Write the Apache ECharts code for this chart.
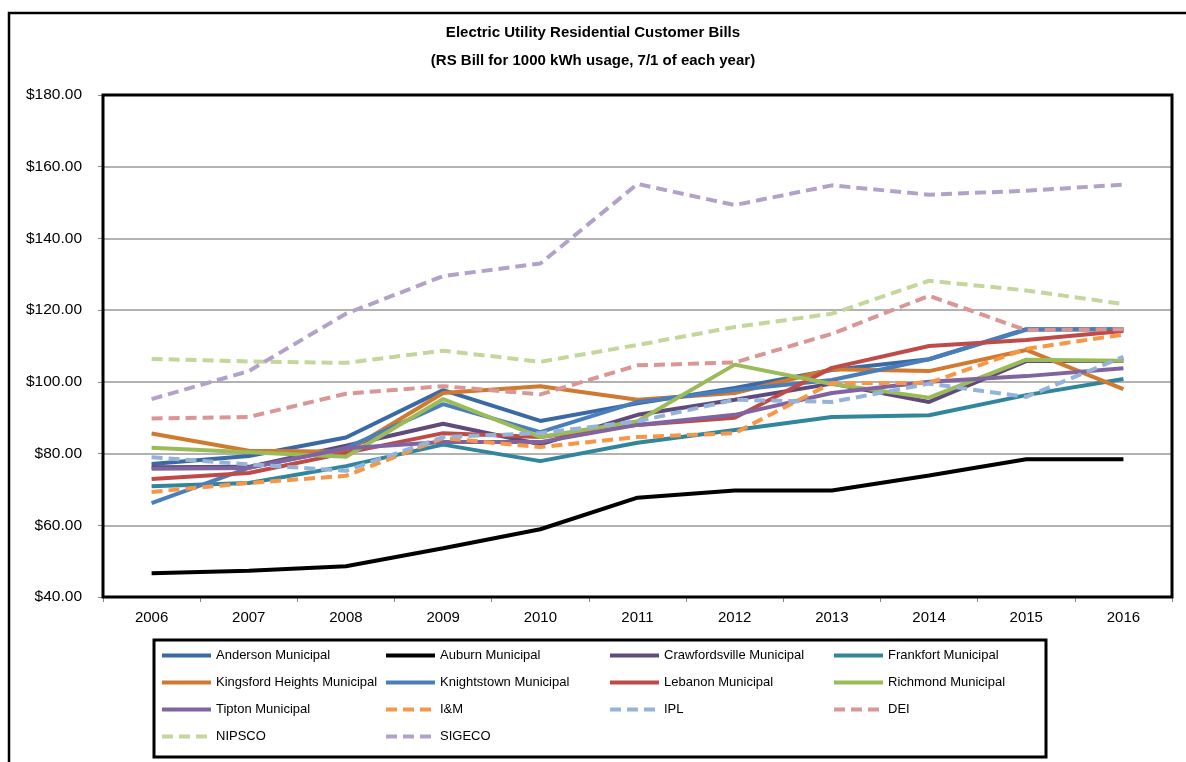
<!DOCTYPE html>
<html>
<head>
<meta charset="utf-8">
<script src="https://cdn.jsdelivr.net/npm/echarts@6/dist/echarts.min.js"></script>
<style>
html,body{margin:0;padding:0;background:#fff;}
#chart{width:1186px;height:762px;}
</style>
</head>
<body>
<div id="chart"></div>
<script>
const years = ['2006','2007','2008','2009','2010','2011','2012','2013','2014','2015','2016'];
const anderson      = [77.1, 79.3, 84.5, 97.7, 89.1, 94.0, 98.3, 103.3, 106.3, 114.7, 114.7];
const auburn        = [46.6, 47.3, 48.6, 53.6, 58.9, 67.7, 69.7, 69.7, 73.9, 78.4, 78.4];
const crawfordsville= [76.2, 76.3, 82.2, 88.3, 82.6, 90.8, 95.0, 99.5, 94.4, 105.8, 105.8];
const frankfort     = [70.9, 71.8, 76.5, 82.5, 77.9, 83.0, 86.6, 90.2, 90.7, 96.3, 100.8];
const kingsford     = [85.6, 80.8, 80.5, 96.9, 98.8, 95.0, 96.9, 103.5, 103.0, 108.9, 98.0];
const knightstown   = [66.2, 76.0, 81.5, 93.8, 86.0, 94.4, 97.7, 100.5, 106.3, 114.5, 114.7];
const lebanon       = [72.9, 74.6, 80.2, 85.7, 84.6, 88.0, 90.0, 103.9, 110.0, 111.7, 114.2];
const richmond      = [81.6, 80.4, 79.1, 95.2, 84.6, 89.0, 104.8, 99.4, 95.6, 106.2, 105.9];
const tipton        = [75.8, 76.0, 81.5, 83.2, 83.2, 88.0, 90.8, 96.9, 100.0, 101.6, 103.8];
const im            = [69.3, 71.8, 73.8, 84.3, 81.8, 84.6, 85.7, 99.7, 99.7, 109.2, 113.2];
const ipl           = [79.0, 77.0, 75.2, 84.6, 85.7, 89.0, 95.0, 94.4, 99.5, 95.8, 107.0];
const dei           = [89.8, 90.2, 96.7, 98.8, 96.5, 104.6, 105.4, 113.4, 124.0, 114.4, 114.7];
const nipsco        = [106.4, 105.7, 105.3, 108.7, 105.6, 110.3, 115.3, 119.0, 128.2, 125.5, 121.7];
const sigeco        = [95.2, 103.0, 119.0, 129.5, 133.0, 155.2, 149.3, 154.8, 152.2, 153.3, 155.0];

const seriesDefs = [
  ['Anderson Municipal', anderson, '#3A6AA3', 'solid'],
  ['Auburn Municipal', auburn, '#000000', 'solid'],
  ['Crawfordsville Municipal', crawfordsville, '#604A7B', 'solid'],
  ['Frankfort Municipal', frankfort, '#31859C', 'solid'],
  ['Kingsford Heights Municipal', kingsford, '#D07A30', 'solid'],
  ['Knightstown Municipal', knightstown, '#4A7EBB', 'solid'],
  ['Lebanon Municipal', lebanon, '#BE4B48', 'solid'],
  ['Richmond Municipal', richmond, '#9BBB59', 'solid'],
  ['Tipton Municipal', tipton, '#8064A2', 'solid'],
  ['I&M', im, '#F79646', 'dashed'],
  ['IPL', ipl, '#95B3D7', 'dashed'],
  ['DEI', dei, '#D99694', 'dashed'],
  ['NIPSCO', nipsco, '#C3D69B', 'dashed'],
  ['SIGECO', sigeco, '#B3A2C7', 'dashed']
];

const FONT = '"Liberation Sans", Arial, sans-serif';

const series = seriesDefs.map(([name, data, color, type]) => ({
  name, type: 'line', data, symbol: 'none', smooth: false,
  lineStyle: { color, width: 4, type: type === 'dashed' ? [11, 6] : 'solid', cap: 'butt' },
  itemStyle: { color },
  emphasis: { disabled: true },
  z: 2
}));

const legendCols = [
  ['Anderson Municipal','Kingsford Heights Municipal','Tipton Municipal','NIPSCO'],
  ['Auburn Municipal','Knightstown Municipal','I&M','SIGECO'],
  ['Crawfordsville Municipal','Lebanon Municipal','IPL'],
  ['Frankfort Municipal','Richmond Municipal','DEI']
];
const legendLeft = [160, 384, 608, 832];

const legends = legendCols.map((d, i) => ({
  show: true,
  data: d, orient: 'vertical', left: legendLeft[i], top: 649,
  itemWidth: 49, itemHeight: 14, itemGap: 14,
  selectedMode: false,
  lineStyle: { width: 4 },
  itemStyle: { color: 'rgba(0,0,0,0)', borderColor: 'rgba(0,0,0,0)', borderWidth: 0, opacity: 0 },
  textStyle: { fontFamily: FONT, fontSize: 13, color: '#000' },
  padding: 0
}));

const chart = echarts.init(document.getElementById('chart'), null, { renderer: 'canvas' });
chart.setOption({
  backgroundColor: '#fff',
  animation: false,
  title: {
    text: 'Electric Utility Residential Customer Bills\n(RS Bill for 1000 kWh usage, 7/1 of each year)',
    left: 'center', top: 14,
    textStyle: { fontFamily: FONT, fontSize: 15, fontWeight: 'bold', color: '#000', lineHeight: 28 }
  },
  legend: legends,
  grid: { left: 103, right: 14, top: 95, bottom: 165, show: false },
  xAxis: {
    type: 'category', data: years, boundaryGap: true,
    axisLine: { show: true, lineStyle: { color: '#000', width: 1 } },
    axisTick: { show: true, alignWithLabel: false, length: 5, lineStyle: { color: '#888' } },
    axisLabel: { fontFamily: FONT, fontSize: 15, color: '#000', margin: 13 },
    splitLine: { show: false }
  },
  yAxis: {
    type: 'value', min: 40, max: 180, interval: 20,
    axisLine: { show: false },
    axisTick: { show: true, length: 5, lineStyle: { color: '#888' } },
    axisLabel: { fontFamily: FONT, fontSize: 15.5, color: '#000', margin: 21, formatter: v => '$' + v.toFixed(2) },
    splitLine: { show: true, lineStyle: { color: '#999', width: 1.5 } }
  },
  graphic: [
    { type: 'rect', shape: { x: 9, y: 13, width: 1190, height: 760 }, style: { fill: 'none', stroke: '#000', lineWidth: 2.5 }, z: 0 },
    { type: 'rect', shape: { x: 103, y: 95, width: 1069, height: 502 }, style: { fill: 'none', stroke: '#000', lineWidth: 3 }, z: 100 },
    { type: 'rect', shape: { x: 154, y: 640, width: 892, height: 117 }, style: { fill: 'none', stroke: '#000', lineWidth: 3 }, z: 0 }
  ],
  series
});
</script>
</body>
</html>
